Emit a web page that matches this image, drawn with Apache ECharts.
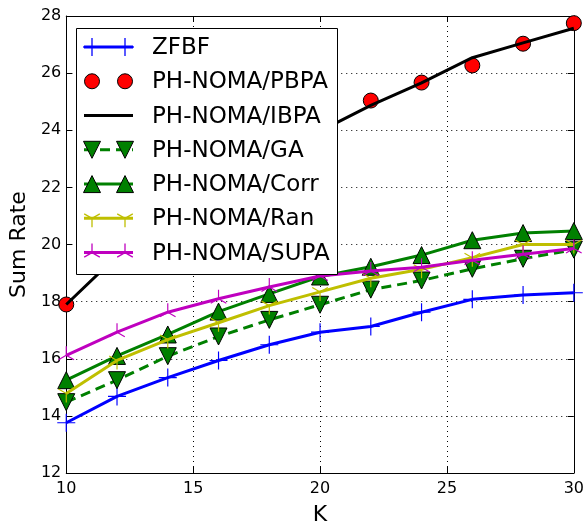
<!DOCTYPE html>
<html>
<head>
<meta charset="utf-8">
<script src="https://cdn.jsdelivr.net/npm/echarts@6/dist/echarts.min.js"></script>
<style>
html,body{margin:0;padding:0;background:#fff;}
#chart{width:587px;height:531px;}
</style>
</head>
<body>
<div id="chart"></div>
<script>
// ---- data ----
var kValues = [10, 12, 14, 16, 18, 20, 22, 24, 26, 28, 30];
var zfbf = [13.76, 14.68, 15.34, 15.94, 16.49, 16.93, 17.13, 17.63, 18.08, 18.23, 18.31];
var pbpa = [17.9, 19.6, 21.0, 22.2, 23.2, 24.0, 25.04, 25.67, 26.27, 27.03, 27.75];
var ibpa = [17.9, 19.6, 21.0, 22.2, 23.2, 23.97, 24.87, 25.66, 26.54, 27.06, 27.57];
var gaVals = [14.48, 15.25, 16.09, 16.78, 17.36, 17.89, 18.42, 18.74, 19.15, 19.5, 19.82];
var corr = [15.25, 16.1, 16.85, 17.65, 18.27, 18.88, 19.22, 19.63, 20.15, 20.4, 20.47];
var ran = [14.78, 15.94, 16.67, 17.26, 17.86, 18.34, 18.82, 19.13, 19.54, 20.0, 20.0];
var supa = [16.12, 16.93, 17.63, 18.1, 18.51, 18.9, 19.07, 19.2, 19.45, 19.66, 19.86];
var seriesNames = ['ZFBF', 'PH-NOMA/PBPA', 'PH-NOMA/IBPA', 'PH-NOMA/GA', 'PH-NOMA/Corr', 'PH-NOMA/Ran', 'PH-NOMA/SUPA'];
var xTicks = [10, 15, 20, 25, 30];
var yTicks = [12, 14, 16, 18, 20, 22, 24, 26, 28];

function pairs(vals) { return kValues.map(function (k, i) { return [k, vals[i]]; }); }

// ---- marker shapes (20x20 box, centre 10,10) ----
function spoke(x1, y1, x2, y2, w) {
  var dx = x2 - x1, dy = y2 - y1, l = Math.sqrt(dx * dx + dy * dy);
  var nx = -dy / l * w / 2, ny = dx / l * w / 2;
  return 'M' + (x1 + nx) + ' ' + (y1 + ny) + 'L' + (x2 + nx) + ' ' + (y2 + ny) +
    'L' + (x2 - nx) + ' ' + (y2 - ny) + 'L' + (x1 - nx) + ' ' + (y1 - ny) + 'Z';
}
var bbox = 'M0 0L0.001 0L0 0.001Z M20 20L19.999 20L20 19.999Z';
var W = 1.3;
var plusPath = 'path://' + spoke(0, 10, 20, 10, W) + spoke(10, 0, 10, 20, W) + bbox;
var triDownPath = 'path://' + spoke(10, 10, 10, 20, W) + spoke(10, 10, 1.34, 5, W) + spoke(10, 10, 18.66, 5, W) + bbox;
var triUpPath = 'path://' + spoke(10, 10, 10, 0, W) + spoke(10, 10, 1.34, 15, W) + spoke(10, 10, 18.66, 15, W) + bbox;

var FONT = 'DejaVu Sans';
var BLUE = '#0000ff', RED = '#ff0000', GREEN = '#008000', YEL = '#bfbf00', MAG = '#bf00bf';

function lineSeries(name, vals, color, opts) {
  var s = {
    name: name, type: 'line', data: pairs(vals), xAxisIndex: 0, yAxisIndex: 0,
    lineStyle: { color: color, width: 3, type: 'solid' },
    itemStyle: { color: color, borderWidth: 0 },
    symbol: 'none', symbolSize: 18, showSymbol: true, showAllSymbol: true,
    emphasis: { disabled: true }, silent: true, animation: false
  };
  for (var k in opts) {
    if (k === 'lineStyle' || k === 'itemStyle') { Object.assign(s[k], opts[k]); }
    else s[k] = opts[k];
  }
  return s;
}

var series = [
  lineSeries(seriesNames[0], zfbf, BLUE, { symbol: plusPath, symbolSize: 18, z: 2 }),
  lineSeries(seriesNames[1], pbpa, RED, { symbol: 'circle', symbolSize: 15, lineStyle: { width: 0, opacity: 0 }, itemStyle: { borderColor: '#000', borderWidth: 1 }, z: 3 }),
  lineSeries(seriesNames[2], ibpa, '#000', { symbol: 'none', z: 4 }),
  lineSeries(seriesNames[3], gaVals, GREEN, { symbol: 'triangle', symbolRotate: 180, symbolSize: 17, lineStyle: { type: [10, 6] }, itemStyle: { borderColor: '#000', borderWidth: 1 }, z: 5 }),
  lineSeries(seriesNames[4], corr, GREEN, { symbol: 'triangle', symbolSize: 17, itemStyle: { borderColor: '#000', borderWidth: 1 }, z: 6 }),
  lineSeries(seriesNames[5], ran, YEL, { symbol: triDownPath, symbolSize: 18, z: 7 }),
  lineSeries(seriesNames[6], supa, MAG, { symbol: triUpPath, symbolSize: 18, z: 8 })
];

// ---- legend drawn with graphic elements ----
var gx0 = 84, gx1 = 133, mk0 = 92, mk1 = 125, textX = 152, row0 = 47, rowStep = 34.27;
var legendEls = [{
  type: 'rect', shape: { x: 76.5, y: 28.5, width: 261, height: 246 },
  style: { fill: '#fff', stroke: '#000', lineWidth: 1 }, z: 100
}];
function lineEl(x1, y1, x2, y2, color, w, dash) {
  return { type: 'line', shape: { x1: x1, y1: y1, x2: x2, y2: y2 }, style: { stroke: color, lineWidth: w, lineDash: dash || null }, z: 101 };
}
function spokesEl(cx, cy, r, pts, color) {
  return pts.map(function (p) { return lineEl(cx, cy, cx + p[0] * r, cy + p[1] * r, color, 1.3); });
}
seriesNames.forEach(function (name, i) {
  var y = row0 + i * rowStep;
  var cols = [BLUE, RED, '#000', GREEN, GREEN, YEL, MAG];
  var c = cols[i];
  if (i !== 1) legendEls.push(lineEl(gx0, y, gx1, y, c, 3, i === 3 ? [10, 6] : null));
  [mk0, mk1].forEach(function (mx) {
    if (i === 0) { legendEls = legendEls.concat(spokesEl(mx, y, 9, [[-1, 0], [1, 0], [0, -1], [0, 1]], c)); }
    else if (i === 1) legendEls.push({ type: 'circle', shape: { cx: mx, cy: y, r: 7.5 }, style: { fill: RED, stroke: '#000', lineWidth: 1 }, z: 102 });
    else if (i === 3) legendEls.push({ type: 'polygon', shape: { points: [[mx - 8.5, y - 8.5], [mx + 8.5, y - 8.5], [mx, y + 8.5]] }, style: { fill: GREEN, stroke: '#000', lineWidth: 1 }, z: 102 });
    else if (i === 4) legendEls.push({ type: 'polygon', shape: { points: [[mx - 8.5, y + 8.5], [mx + 8.5, y + 8.5], [mx, y - 8.5]] }, style: { fill: GREEN, stroke: '#000', lineWidth: 1 }, z: 102 });
    else if (i === 5) legendEls = legendEls.concat(spokesEl(mx, y, 9, [[0, 1], [-0.866, -0.5], [0.866, -0.5]], c));
    else if (i === 6) legendEls = legendEls.concat(spokesEl(mx, y, 9, [[0, -1], [-0.866, 0.5], [0.866, 0.5]], c));
  });
  legendEls.push({ type: 'text', x: textX, y: y + 1, style: { text: name, fill: '#000', font: '23px "' + FONT + '"', textVerticalAlign: 'middle', textAlign: 'left' }, z: 103 });
});

var gridLine = { show: true, lineStyle: { color: '#000', width: 1, type: [1, 4] } };
var chart = echarts.init(document.getElementById('chart'), null, { renderer: 'canvas' });
chart.setOption({
  backgroundColor: '#fff',
  animation: false,
  grid: { left: 64, top: 16, width: 510, height: 463, containLabel: false },
  xAxis: [{
    type: 'value', min: xTicks[0], max: xTicks[xTicks.length - 1], interval: 5, position: 'bottom',
    name: 'K', nameLocation: 'middle', nameGap: 31,
    nameTextStyle: { fontSize: 22, fontFamily: FONT, color: '#000' },
    axisLine: { show: true, lineStyle: { color: '#000', width: 1 } },
    axisTick: { show: true, inside: true, length: 6, lineStyle: { color: '#000' } },
    axisLabel: { fontSize: 16, fontFamily: FONT, color: '#000', margin: 8 },
    splitLine: gridLine
  }, {
    type: 'value', min: xTicks[0], max: xTicks[xTicks.length - 1], interval: 5, position: 'top',
    axisLine: { show: true, lineStyle: { color: '#000', width: 1 } },
    axisTick: { show: true, inside: true, length: 6, lineStyle: { color: '#000' } },
    axisLabel: { show: false }, splitLine: { show: false }
  }],
  yAxis: [{
    type: 'value', min: yTicks[0], max: yTicks[yTicks.length - 1], interval: 2, position: 'left',
    name: 'Sum Rate', nameLocation: 'middle', nameGap: 34, nameRotate: 90,
    nameTextStyle: { fontSize: 22, fontFamily: FONT, color: '#000' },
    axisLine: { show: true, lineStyle: { color: '#000', width: 1 } },
    axisTick: { show: true, inside: true, length: 6, lineStyle: { color: '#000' } },
    axisLabel: { fontSize: 16, fontFamily: FONT, color: '#000', margin: 5 },
    splitLine: gridLine
  }, {
    type: 'value', min: yTicks[0], max: yTicks[yTicks.length - 1], interval: 2, position: 'right',
    axisLine: { show: true, lineStyle: { color: '#000', width: 1 } },
    axisTick: { show: true, inside: true, length: 6, lineStyle: { color: '#000' } },
    axisLabel: { show: false }, splitLine: { show: false }
  }],
  series: series,
  graphic: { elements: legendEls }
});
</script>
</body>
</html>
